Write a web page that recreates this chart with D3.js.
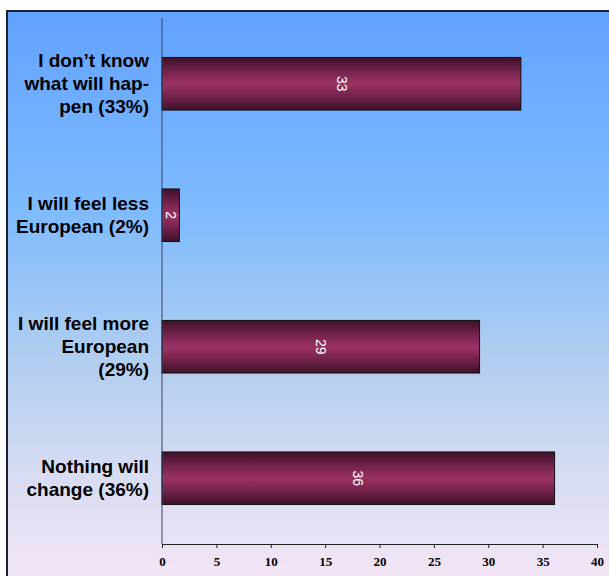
<!DOCTYPE html>
<html>
<head>
<meta charset="utf-8">
<script src="https://cdn.jsdelivr.net/npm/d3@7"></script>
<style>
  body { margin: 0; background: #fff; }
  svg { display: block; }
</style>
</head>
<body>
<div id="chart"></div>
<script>
// categories listed top to bottom
var categories = [
    ["I don\u2019t know", "what will hap-", "pen (33%)"],
    ["I will feel less", "European (2%)"],
    ["I will feel more", "European", "(29%)"],
    ["Nothing will", "change (36%)"]
];
var values = [33.0, 1.6, 29.2, 36.1];
var xTicks = [0, 5, 10, 15, 20, 25, 30, 35, 40];

var width = 609, height = 576;
var plot = { left: 162, right: 597, top: 18, bottom: 544 };

var svg = d3.select("#chart").append("svg")
    .attr("width", width)
    .attr("height", height);

var defs = svg.append("defs");

var bg = defs.append("linearGradient")
    .attr("id", "bgGrad")
    .attr("x1", 0).attr("y1", 0).attr("x2", 0).attr("y2", 1);
bg.append("stop").attr("offset", "0%").attr("stop-color", "#62a2ff");
bg.append("stop").attr("offset", "35%").attr("stop-color", "#7fbbff");
bg.append("stop").attr("offset", "60%").attr("stop-color", "#b0cdf0");
bg.append("stop").attr("offset", "80%").attr("stop-color", "#d6dcf2");
bg.append("stop").attr("offset", "100%").attr("stop-color", "#f6e6f6");

var barGrad = defs.append("linearGradient")
    .attr("id", "barGrad")
    .attr("x1", 0).attr("y1", 0).attr("x2", 0).attr("y2", 1);
barGrad.append("stop").attr("offset", "0%").attr("stop-color", "#3f1128");
barGrad.append("stop").attr("offset", "30%").attr("stop-color", "#7a2550");
barGrad.append("stop").attr("offset", "50%").attr("stop-color", "#9b3264");
barGrad.append("stop").attr("offset", "70%").attr("stop-color", "#7a2550");
barGrad.append("stop").attr("offset", "100%").attr("stop-color", "#3f1128");

// background frame
svg.append("rect")
    .attr("x", 7)
    .attr("y", 11)
    .attr("width", width)
    .attr("height", height)
    .attr("fill", "url(#bgGrad)")
    .attr("stroke", "#1b2235")
    .attr("stroke-width", 2);

var x = d3.scaleLinear()
    .domain([0, 40])
    .range([plot.left, plot.right]);

var y = d3.scaleBand()
    .domain(d3.range(categories.length))
    .paddingInner(0.6)
    .paddingOuter(0.3)
    .range([plot.top, plot.bottom]);

// bars
var bar = svg.selectAll(".bar")
    .data(values)
    .enter()
    .append("g")
    .attr("class", "bar");

bar.append("rect")
    .attr("x", x(0))
    .attr("y", (d, i) => y(i))
    .attr("width", d => x(d) - x(0))
    .attr("height", y.bandwidth())
    .attr("fill", "url(#barGrad)")
    .attr("stroke", "#111")
    .attr("stroke-width", 1);

bar.append("text")
    .text(d => d3.format(".0f")(d))
    .attr("transform", (d, i) => "translate(" + (x(0) + (x(d) - x(0)) / 2) + "," + (y(i) + y.bandwidth() / 2) + ") rotate(90)")
    .attr("text-anchor", "middle")
    .attr("dy", "0.35em")
    .style("font-family", "Liberation Sans, Arial, sans-serif")
    .style("font-size", "14px")
    .style("fill", "white");

// category labels
var lineH = 23;
svg.selectAll(".cat")
    .data(categories)
    .enter()
    .append("text")
    .attr("class", "cat")
    .attr("text-anchor", "end")
    .style("font-family", "Liberation Sans, Arial, sans-serif")
    .style("font-weight", "bold")
    .style("font-size", "19px")
    .style("fill", "#000")
    .each(function (lines, i) {
        var cy = y(i) + y.bandwidth() / 2;
        var y0 = cy - (lines.length - 1) * lineH / 2;
        d3.select(this).selectAll("tspan")
            .data(lines)
            .enter()
            .append("tspan")
            .attr("x", 149)
            .attr("y", (l, j) => y0 + j * lineH)
            .attr("dy", "0.35em")
            .text(l => l);
    });

// axes
var xAxis = svg.append("g")
    .attr("transform", "translate(0," + plot.bottom + ")")
    .call(d3.axisBottom(x).tickValues(xTicks).tickSizeInner(4).tickSizeOuter(4).tickPadding(9));
xAxis.select(".domain").attr("stroke", "#222");
xAxis.selectAll(".tick line").attr("stroke", "#222");
xAxis.selectAll(".tick text")
    .style("font-family", "Liberation Serif, Times New Roman, serif")
    .style("font-weight", "bold")
    .style("font-size", "13px")
    .style("fill", "#000");

svg.append("line")
    .attr("x1", x(0)).attr("x2", x(0))
    .attr("y1", plot.top).attr("y2", plot.bottom)
    .attr("stroke", "#3a4560")
    .attr("stroke-width", 1);
</script>
</body>
</html>
